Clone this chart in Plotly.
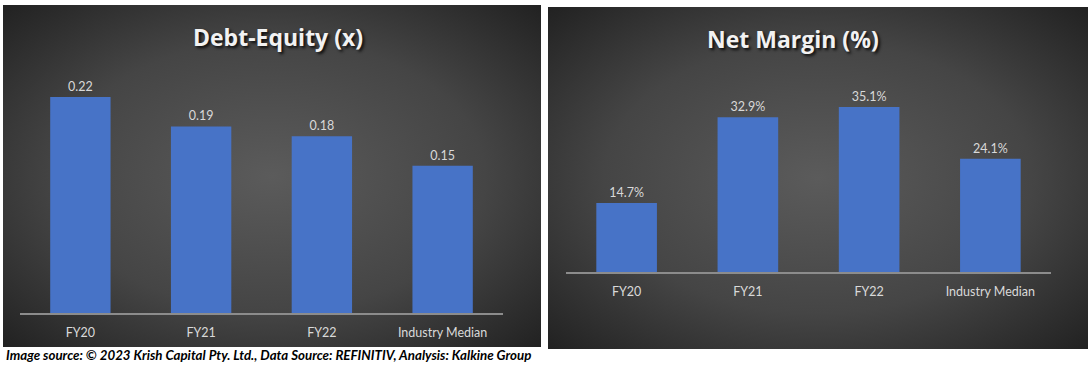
import base64
import plotly.graph_objects as go

categories = ["FY20", "FY21", "FY22", "Industry Median"]
debt_equity = [0.22, 0.19, 0.18, 0.15]
net_margin = [14.7, 32.9, 35.1, 24.1]
de_labels = ["0.22", "0.19", "0.18", "0.15"]
nm_labels = ["14.7%", "32.9%", "35.1%", "24.1%"]

W, H = 1090, 365
BAR = "#4773c7"
TXT = "#d9d9d9"

svg = ('<svg xmlns="http://www.w3.org/2000/svg" width="540" height="342" viewBox="0 0 540 342" preserveAspectRatio="none">'
       '<defs><radialGradient id="g" cx="50%" cy="50%" r="72%">'
       '<stop offset="0" stop-color="#5b5b5b"/><stop offset="0.55" stop-color="#454545"/>'
       '<stop offset="1" stop-color="#202020"/></radialGradient></defs>'
       '<rect width="540" height="342" fill="url(#g)"/></svg>')
bg = "data:image/svg+xml;base64," + base64.b64encode(svg.encode()).decode()


def px(x):
    return x / W


def py(y):
    return 1 - y / H


fig = go.Figure()
fig.add_trace(go.Bar(x=categories, y=debt_equity, text=de_labels, textposition="outside",
                     marker=dict(color=BAR, line=dict(width=0)), width=0.5,
                     textfont=dict(family="Lato", size=12.5, color=TXT),
                     cliponaxis=False, xaxis="x", yaxis="y", hoverinfo="skip"))
fig.add_trace(go.Bar(x=categories, y=net_margin, text=nm_labels, textposition="outside",
                     marker=dict(color=BAR, line=dict(width=0)), width=0.5,
                     textfont=dict(family="Lato", size=12.5, color=TXT),
                     cliponaxis=False, xaxis="x2", yaxis="y2", hoverinfo="skip"))

top = 60
axis_common = dict(showline=True, linecolor="#8c8c8c", linewidth=2, ticks="", showgrid=False,
                   tickfont=dict(family="Lato", size=12.5, color=TXT), zeroline=False,
                   ticklabelstandoff=7, fixedrange=True)
yax_common = dict(visible=False, showgrid=False, zeroline=False, fixedrange=True)

fig.update_layout(
    width=W, height=H, margin=dict(l=0, r=0, t=0, b=0),
    paper_bgcolor="white", plot_bgcolor="rgba(0,0,0,0)", showlegend=False,
    xaxis=dict(domain=[px(20), px(503)], anchor="y", range=[-0.5, 3.5], **axis_common),
    yaxis=dict(domain=[py(313), py(top)], anchor="x", range=[0, (313 - top) / 982.0], **yax_common),
    xaxis2=dict(domain=[px(566), px(1051)], anchor="y2", range=[-0.5, 3.5], **axis_common),
    yaxis2=dict(domain=[py(272), py(top)], anchor="x2", range=[0, (272 - top) / 4.7], **yax_common),
    images=[
        dict(source=bg, xref="paper", yref="paper", x=px(3), y=py(5), sizex=px(538), sizey=342 / H,
             sizing="stretch", xanchor="left", yanchor="top", layer="below"),
        dict(source=bg, xref="paper", yref="paper", x=px(548), y=py(7), sizex=px(540), sizey=342 / H,
             sizing="stretch", xanchor="left", yanchor="top", layer="below"),
    ],
    annotations=[
        dict(text="<b>Debt-Equity (x)</b>", xref="paper", yref="paper", x=px(278), y=py(37),
             showarrow=False, xanchor="center", yanchor="middle",
             font=dict(family="Open Sans", size=23, color="#f2f2f2",
                       shadow="2px 2px 3px rgba(0,0,0,0.85)")),
        dict(text="<b>Net Margin (%)</b>", xref="paper", yref="paper", x=px(793), y=py(39),
             showarrow=False, xanchor="center", yanchor="middle",
             font=dict(family="Open Sans", size=23, color="#f2f2f2",
                       shadow="2px 2px 3px rgba(0,0,0,0.85)")),
        dict(text="<b><i>Image source: © 2023 Krish Capital Pty. Ltd., Data Source: REFINITIV, Analysis: Kalkine Group</i></b>",
             xref="paper", yref="paper", x=px(4), y=py(355), showarrow=False,
             xanchor="left", yanchor="middle",
             font=dict(family="Lato", size=13.3, color="black")),
    ],
)

fig.write_html("out.html", config={"displayModeBar": False},
               post_script="document.body.style.margin='0';document.documentElement.style.overflow='hidden';")
